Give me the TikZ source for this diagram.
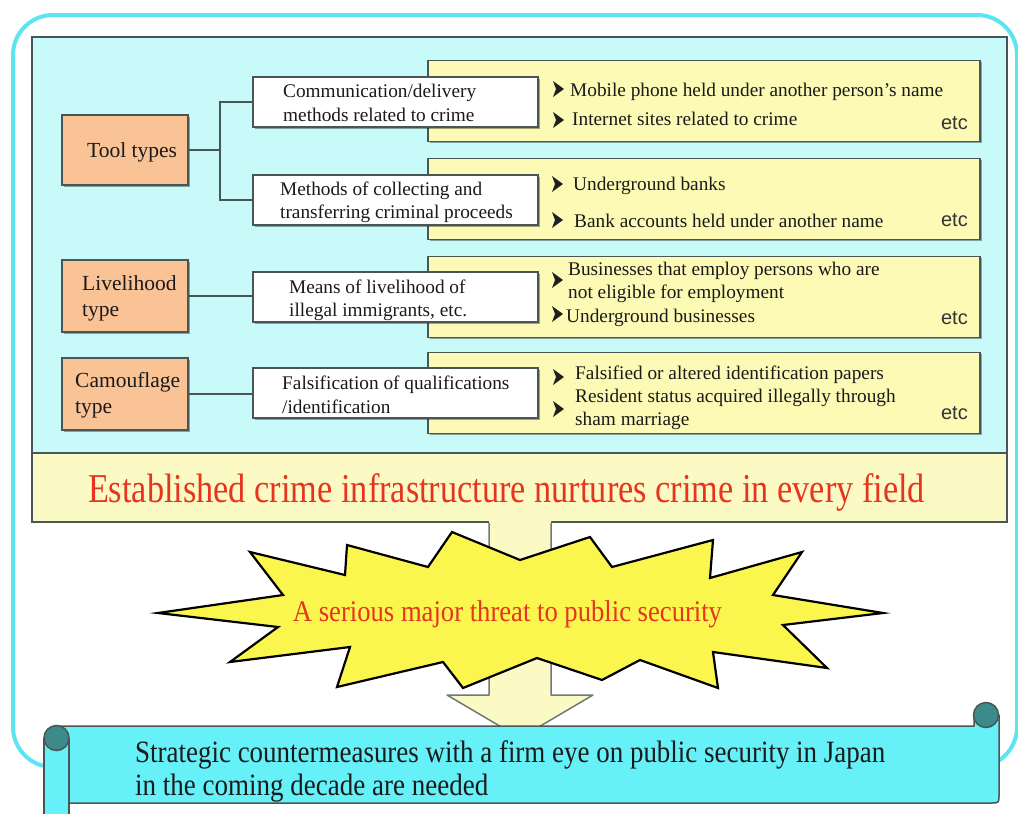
\documentclass[tikz,border=0pt]{standalone}
\usepackage{fontspec}
\setmainfont{Liberation Serif}
\setsansfont{Liberation Sans}
\usepackage{graphicx}
\usetikzlibrary{shadows}
\definecolor{framec}{HTML}{5CE4F0}
\definecolor{panelc}{HTML}{C8FAFA}
\definecolor{yboxc}{HTML}{FCFAB4}
\definecolor{bandc}{HTML}{FCFAC4}
\definecolor{orngc}{HTML}{FAC396}
\definecolor{edgec}{HTML}{4A5656}
\definecolor{redtxt}{HTML}{E6341F}
\definecolor{staryel}{HTML}{FAF64E}
\definecolor{scrollc}{HTML}{66F0F8}
\definecolor{knobc}{HTML}{3C8A8A}
\definecolor{txtc}{HTML}{1A1A1A}
\begin{document}
\begin{tikzpicture}[x=1pt,y=-1pt,
  shd/.style={drop shadow={shadow xshift=1.5pt,shadow yshift=-1.5pt,fill=black,opacity=.35}},
  ybx/.style={draw=edgec, fill=yboxc, line width=1.8pt, inner sep=0pt, minimum width=552pt, minimum height=81pt, shd},
  wbx/.style={draw=edgec, fill=white, line width=1.8pt, inner sep=0pt, minimum width=285pt, minimum height=50pt, shd},
  obx/.style={draw=edgec, fill=orngc, line width=1.8pt, inner sep=0pt, minimum width=126pt, minimum height=71pt, shd},
  bodytxt/.style={font=\fontsize{19.3}{24}\selectfont, text=txtc, inner sep=0pt, anchor=base west},
  labtxt/.style={font=\fontsize{21.5}{27}\selectfont, text=txtc, inner sep=0pt, anchor=base west},
  etcst/.style={font=\sffamily\fontsize{20}{22}\selectfont, text=black!80, inner sep=0pt, anchor=base east},
  conn/.style={draw=edgec, line width=1.8pt},
  scrollst/.style={draw=edgec, fill=scrollc, line width=1.5pt, line join=round},
  knobst/.style={draw=edgec, fill=knobc, line width=1.5pt},
  bul/.pic={\fill[black!88] (-5,-8) -- (6,0) -- (-5,8) -- (-2,0) -- cycle;}
]
\useasboundingbox (0,0) rectangle (1018,814);

% outer frame
\draw[framec, line width=4pt, rounded corners=40pt] (13,15) rectangle (1017,767);

% panel and band
\node[draw=edgec, fill=panelc, line width=2pt, inner sep=0pt, minimum width=975pt, minimum height=416pt] (panel) at (519.5,245) {};
\node[draw=edgec, fill=bandc, line width=2pt, inner sep=0pt, minimum width=975pt, minimum height=69pt] (band) at (519.5,487.5) {};
\node[text=redtxt, inner sep=0pt, anchor=base] (bandtext) at (506.5,502)
  {\resizebox{837pt}{\height}{\fontsize{41}{44}\selectfont Established crime infrastructure nurtures crime in every field}};

% right-hand yellow boxes
\node[ybx] (y1) at (704,101) {};
\node[ybx] (y2) at (704,199) {};
\node[ybx] (y3) at (704,297) {};
\node[ybx] (y4) at (704,393) {};

% white boxes
\node[wbx] (w1) at (395.5,102) {};
\node[wbx] (w2) at (395.5,200) {};
\node[wbx] (w3) at (395.5,297) {};
\node[wbx] (w4) at (395.5,393) {};

% orange boxes
\node[obx, minimum height=70pt] (t1) at (125,150) {};
\node[obx, minimum height=72pt] (t2) at (125,296) {};
\node[obx, minimum height=72pt] (t3) at (125,394) {};

% connectors
\coordinate (tj) at (220,150);
\draw[conn] (t1.east) -- (tj);
\draw[conn] (w1.west) -| (tj) |- (w2.west);
\draw[conn] (t2.east) -- (w2.west |- t2.east);
\draw[conn] (t3.east) -- (w4.west |- t3.east);

% orange labels
\node[labtxt] (t1a) at (87,157) {Tool types};
\node[labtxt] (t2a) at (82,290) {Livelihood};
\node[labtxt] (t2b) at (82,316) {type};
\node[labtxt] (t3a) at (75,387) {Camouflage};
\node[labtxt] (t3b) at (75,413) {type};

% white box labels
\node[bodytxt] (w1a) at (283,97) {Communication/delivery};
\node[bodytxt] (w1b) at (283,121) {methods related to crime};
\node[bodytxt] (w2a) at (280,195) {Methods of collecting and};
\node[bodytxt] (w2b) at (280,218) {transferring criminal proceeds};
\node[bodytxt] (w3a) at (289,293) {Means of livelihood of};
\node[bodytxt] (w3b) at (289,316) {illegal immigrants, etc.};
\node[bodytxt] (w4a) at (282,389) {Falsification of qualifications};
\node[bodytxt] (w4b) at (282,413) {/identification};

% items
\pic at (558,89) {bul};
\pic at (558,120) {bul};
\node[bodytxt] (i1a) at (570,96) {Mobile phone held under another person’s name};
\node[bodytxt] (i1b) at (572,125) {Internet sites related to crime};
\node[etcst] (e1) at (968,129) {etc};

\pic at (557,184) {bul};
\pic at (557,220) {bul};
\node[bodytxt] (i2a) at (573,190) {Underground banks};
\node[bodytxt] (i2b) at (574,227) {Bank accounts held under another name};
\node[etcst] (e2) at (968,226) {etc};

\pic at (557,280) {bul};
\pic at (557,314) {bul};
\node[bodytxt] (i3a) at (568,275) {Businesses that employ persons who are};
\node[bodytxt] (i3b) at (568,298) {not eligible for employment};
\node[bodytxt] (i3c) at (566,322) {Underground businesses};
\node[etcst] (e3) at (968,324) {etc};

\pic at (558,377) {bul};
\pic at (558,409) {bul};
\node[bodytxt] (i4a) at (575,379) {Falsified or altered identification papers};
\node[bodytxt] (i4b) at (575,402) {Resident status acquired illegally through};
\node[bodytxt] (i4c) at (575,425) {sham marriage};
\node[etcst] (e4) at (968,419) {etc};

% big down arrow (behind star and scroll)
\fill[bandc] (489,520) -- (489,695) -- (447,695) -- (520,738) -- (593,695) -- (551,695) -- (551,520) -- cycle;
\draw[edgec!80, line width=1.5pt, line join=round] (489,523) -- (489,695) -- (447,695) -- (520,738) -- (593,695) -- (551,695) -- (551,523);

% star
\draw[black, line width=2.2pt, fill=staryel, line join=miter]
  (158,613) -- (283,595) -- (250,552) -- (345,575) -- (347,545) -- (428,567) -- (452,532) -- (520,560)
  -- (590,537) -- (612,567) -- (713,540) -- (710,578) -- (802,552) -- (773,595) -- (883,613) -- (783,625)
  -- (827,668) -- (713,652) -- (718,688) -- (640,660) -- (602,680) -- (537,658) -- (463,688) -- (443,662)
  -- (337,687) -- (350,647) -- (230,662) -- (278,627) -- cycle;
\node[text=redtxt, inner sep=0pt, anchor=base] (threat) at (507.5,621)
  {\resizebox{429pt}{\height}{\fontsize{30}{33}\selectfont A serious major threat to public security}};

% scroll
\draw[scrollst] (56,726) -- (974,726) -- (974,715) -- (999,715) -- (999,795) .. controls (999,803) .. (991,803) -- (56,803) -- cycle;
\draw[knobst] (986,715) circle (12.5);
\draw[scrollst] (44,738) -- (44,822) -- (69,822) -- (69,738);
\draw[knobst] (56.5,738) circle (12.5);
\node[text=txtc, inner sep=0pt, anchor=base west] (s1) at (135,762)
  {\resizebox{750pt}{\height}{\fontsize{31}{34}\selectfont Strategic countermeasures with a firm eye on public security in Japan}};
\node[text=txtc, inner sep=0pt, anchor=base west] (s2) at (135,795)
  {\resizebox{353pt}{\height}{\fontsize{31}{34}\selectfont in the coming decade are needed}};
\end{tikzpicture}
\end{document}
